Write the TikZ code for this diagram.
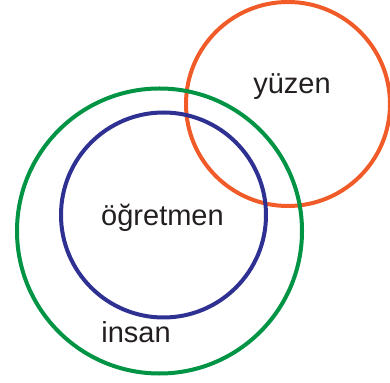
\documentclass[tikz,border=0pt]{standalone}
\usepackage{fontspec}
\setmainfont{Liberation Sans}
\definecolor{cgreen}{RGB}{0,148,68}
\definecolor{cblue}{RGB}{46,49,146}
\definecolor{cred}{RGB}{241,90,41}
\definecolor{ctext}{RGB}{35,31,32}
\begin{document}
\begin{tikzpicture}[x=1pt,y=1pt,
  ring/.style={line width=4pt},
  lbl/.style={anchor=base,inner sep=0pt,text=ctext,font=\fontsize{29}{34}\selectfont}]
\useasboundingbox (0,0) rectangle (390,382);
\begin{scope}
\clip (0,0) rectangle (390,382);
\draw[ring,cred] (288,278) circle (102);
\draw[ring,cgreen] (159.5,151) circle (142.5);
\draw[ring,cblue] (163.5,167) circle (102.5);
\end{scope}
\node[lbl] (yuzen) at (292,288) {yüzen};
\node[lbl] (ogretmen) at (162.5,156.5) {öğretmen};
\node[lbl] (insan) at (136,39) {insan};
\end{tikzpicture}
\end{document}
